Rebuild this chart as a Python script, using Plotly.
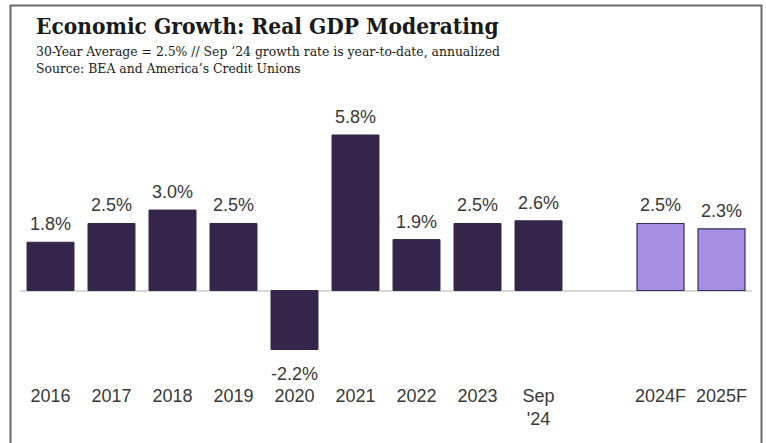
import plotly.graph_objects as go

# Real GDP growth, percent
actual_labels = ["2016", "2017", "2018", "2019", "2020", "2021", "2022", "2023", "Sep '24"]
actual_values = [1.8, 2.5, 3.0, 2.5, -2.2, 5.8, 1.9, 2.5, 2.6]
forecast_labels = ["2024F", "2025F"]
forecast_values = [2.5, 2.3]
spacer = " "
category_order = actual_labels + [spacer] + forecast_labels
tick_text = ["2016", "2017", "2018", "2019", "2020", "2021", "2022", "2023",
             "Sep<br>'24", "", "2024F", "2025F"]

W, H = 766, 443
M_L, M_R, M_T, M_B = 20, 14, 120, 60
PW, PH = W - M_L - M_R, H - M_T - M_B


def px_x(v):
    return (v - M_L) / PW


def px_y(v):
    return 1 - (v - M_T) / PH


DARK = "#35254a"
LIGHT = "#a68fe3"
TXT = "#383838"
TITLE_SERIF = "DejaVu Serif Condensed, DejaVu Serif, Georgia, serif"
SERIF = "DejaVu Serif, Georgia, serif"
label_font = dict(family="Liberation Sans, Arial, sans-serif", size=18, color=TXT)

fig = go.Figure()
fig.add_trace(go.Bar(
    x=actual_labels, y=actual_values, width=0.77,
    marker=dict(color=DARK, line=dict(color=DARK, width=1)),
    showlegend=False, hoverinfo="x+y",
))
fig.add_trace(go.Bar(
    x=forecast_labels, y=forecast_values, width=0.77,
    marker=dict(color=LIGHT, line=dict(color="#3b2b5c", width=1.2)),
    showlegend=False, hoverinfo="x+y",
))

# value labels above positive bars, below negative ones
# (category index is used because year-like names would be read as numbers)
value_notes = []
for cat, val in zip(actual_labels + forecast_labels, actual_values + forecast_values):
    value_notes.append(dict(
        x=category_order.index(cat), y=val, xref="x", yref="y",
        text=f"{val:.1f}%", showarrow=False,
        yanchor="bottom" if val >= 0 else "top", yshift=6 if val >= 0 else -13,
        font=label_font,
    ))

fig.update_layout(
    width=W, height=H, barmode="overlay",
    margin=dict(l=M_L, r=M_R, t=M_T, b=M_B),
    paper_bgcolor="white", plot_bgcolor="white",
    xaxis=dict(
        type="category", categoryorder="array", categoryarray=category_order,
        tickmode="array", tickvals=category_order, ticktext=tick_text,
        showgrid=False, showline=False, zeroline=False, ticks="",
        tickfont=label_font, range=[-0.5, len(category_order) - 0.5],
    ),
    yaxis=dict(
        range=[-3.45, 6.36], showgrid=False, showticklabels=False,
        zeroline=True, zerolinecolor="#d9d9d9", zerolinewidth=1.5,
        showline=False, ticks="",
    ),
    shapes=[dict(
        type="rect", xref="paper", yref="paper",
        x0=px_x(10.5), x1=px_x(761.5), y0=px_y(460), y1=px_y(5.5),
        line=dict(color="#6a6a6a", width=2), fillcolor="rgba(0,0,0,0)",
        layer="above",
    )],
    annotations=value_notes + [
        dict(text="<b>Economic Growth: Real GDP Moderating</b>",
             xref="paper", yref="paper", x=px_x(34), y=px_y(41),
             xanchor="left", yanchor="bottom", showarrow=False,
             font=dict(family=TITLE_SERIF, size=22.5, color="#1a1a1a")),
        dict(text="30-Year Average = 2.5% // Sep \u201824 growth rate is year-to-date, annualized",
             xref="paper", yref="paper", x=px_x(34), y=px_y(51.5),
             xanchor="left", yanchor="middle", showarrow=False,
             font=dict(family=SERIF, size=12.4, color="#1a1a1a")),
        dict(text="Source: BEA and America\u2019s Credit Unions",
             xref="paper", yref="paper", x=px_x(34), y=px_y(68.5),
             xanchor="left", yanchor="middle", showarrow=False,
             font=dict(family=SERIF, size=12.4, color="#1a1a1a")),
    ],
)

fig.write_html("out.html")
